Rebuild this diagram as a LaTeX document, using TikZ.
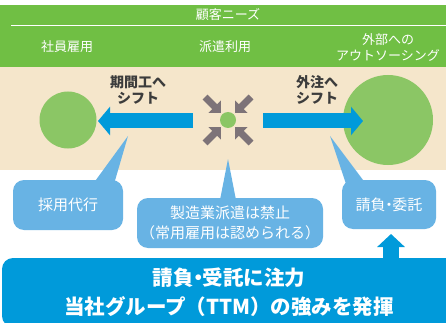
\documentclass[tikz,border=0pt]{standalone}
\usepackage{fontspec}
\setmainfont{Noto Sans CJK JP}
\usetikzlibrary{arrows.meta}
\definecolor{hdr}{HTML}{70BF44}
\definecolor{beige}{HTML}{F5E6CB}
\definecolor{circ}{HTML}{8BC665}
\definecolor{bluearr}{HTML}{009ADA}
\definecolor{callout}{HTML}{68B3E4}
\definecolor{grayarr}{HTML}{7D7378}
\definecolor{lbl}{HTML}{3C3C3C}
\newcommand\ndot{\kern-0.28em・\kern-0.28em}
\tikzset{
  hdrtext/.style={text=white, font=\fontsize{13}{16}\selectfont, align=center, inner sep=0pt},
  lbltext/.style={text=lbl, font=\fontsize{14}{16}\selectfont\bfseries, align=center, inner sep=0pt},
  circnode/.style={circle, fill=circ, inner sep=0pt},
  calloutbox/.style={rectangle, rounded corners=11pt, fill=callout, text=white, align=center, font=\fontsize{15}{20}\selectfont, inner sep=0pt},
  bigarrow/.style={draw=bluearr, line width=15pt, -{Triangle[length=12pt,width=28pt]}},
  grayarrow/.style={draw=grayarr, line width=7pt, -{Triangle[length=9pt,width=17pt]}},
}
\begin{document}
\begin{tikzpicture}[x=1pt,y=-1pt]
\useasboundingbox (0,0) rectangle (446,323);
\fill[white] (0,0) rectangle (446,323);
% header
\fill[hdr] (0,5) rectangle (446,67);
\draw[white, line width=1pt] (11,26) -- (446,26);
\node[hdrtext] (needs) at (228,15) {顧客ニーズ};
\node[hdrtext] (h1) at (67,47) {社員雇用};
\node[hdrtext] (h2) at (225,47) {派遣利用};
\node[hdrtext] (h3) at (388,47) {外部への\\アウトソーシング};
% beige band
\fill[beige] (0,67) rectangle (446,170);
% circles
\node[circnode, minimum size=57pt] (lc) at (68,120) {};
\node[circnode, minimum size=90pt] (rc) at (388,120) {};
\node[circnode, minimum size=16pt] (sc) at (228,120) {};
% blue arrows
\coordinate (la0) at (193,121);
\coordinate (la1) at (98,121);
\coordinate (ra0) at (263,121);
\coordinate (ra1) at (363,121);
\draw[bigarrow] (la0) -- (la1);
\draw[bigarrow] (ra0) -- (ra1);
% labels
\node[lbltext] (ll) at (138,90) {期間工へ\\シフト};
\node[lbltext] (rl) at (317,90) {外注へ\\シフト};
% gray arrows
\coordinate (g1a) at (205,97);  \coordinate (g1b) at (221,113);
\coordinate (g2a) at (251,97);  \coordinate (g2b) at (235,113);
\coordinate (g3a) at (205,143); \coordinate (g3b) at (221,127);
\coordinate (g4a) at (251,143); \coordinate (g4b) at (235,127);
\draw[grayarrow] (g1a) -- (g1b);
\draw[grayarrow] (g2a) -- (g2b);
\draw[grayarrow] (g3a) -- (g3b);
\draw[grayarrow] (g4a) -- (g4b);
% callouts
\node[calloutbox, minimum width=110pt, minimum height=50pt] (c1) at (68,205) {採用代行};
\node[calloutbox, minimum width=186pt, minimum height=50pt] (c2) at (230,223) {製造業派遣は禁止\\（常用雇用は認められる）};
\node[calloutbox, minimum width=94pt, minimum height=49pt] (c3) at (389,204.5) {請負\ndot 委託};
\coordinate (p1) at (128,136);
\coordinate (p2) at (228,159);
\coordinate (p3) at (330,136);
\fill[callout] (93,184) -- (p1) -- (114,184) -- cycle;
\fill[callout] (220,200) -- (p2) -- (236,200) -- cycle;
\fill[callout] (346,184) -- (p3) -- (366,184) -- cycle;
% bottom box
\node[rectangle, rounded corners=11pt, fill=bluearr, text=white, align=center,
      font=\fontsize{20.5}{29}\selectfont\bfseries, minimum width=454pt, minimum height=69pt, inner sep=0pt]
      (bot) at (229,292.5) {請負\ndot 受託に注力\\当社グループ（TTM）の強みを発揮};
% up arrow
\coordinate (up0) at (391,258);
\coordinate (up1) at (391,234);
\draw[draw=bluearr, line width=16pt, -{Triangle[length=13pt,width=27pt]}] (up0) -- (up1);
\end{tikzpicture}
\end{document}
